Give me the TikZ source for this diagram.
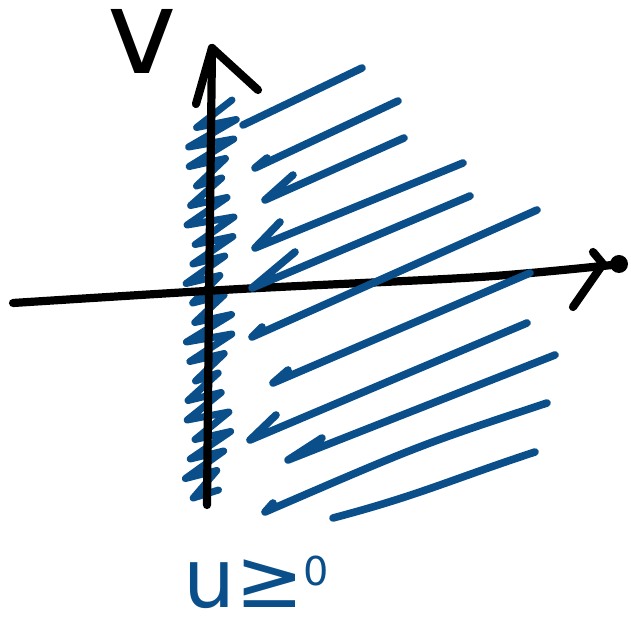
\documentclass[tikz,border=0pt]{standalone}
\usepackage{fontspec}
\setmainfont{DejaVu Sans}
\definecolor{penblue}{HTML}{0B4F8A}
\begin{document}
\begin{tikzpicture}[x=0.03cm,y=-0.03cm,
  axisline/.style={black,line width=7pt,line cap=round,line join=round},
  hatchline/.style={penblue,line width=6.5pt,line cap=round,line join=round},
  scribble/.style={penblue,line width=6pt,line cap=round,line join=round}]
\useasboundingbox (0,0) rectangle (631,627);
% blue scribble along the vertical axis
\draw[scribble] (232,100) \foreach \k in {1,...,20} {
   -- ({192+5*sin(\k*110)-0.1*\k}, {100+19.5*\k+8})
   -- ({230+7*sin(\k*70)-0.35*\k}, {100+19.5*\k}) };
% axes
\draw[axisline] (207,505) -- (209,300) -- (212,48);
\draw[axisline] (196,104) -- (212,48) -- (258,90);
\draw[axisline] plot[smooth] coordinates {(13,303) (240,289) (480,277) (612,265)};
\fill (619,264) circle (9);
\draw[axisline] (593,252) -- (603,264) -- (573,307);
% hatching strokes
\draw[hatchline] (362,68) -- (243,125);
\draw[hatchline] (267,158) -- (255,168) -- (398,101);
\draw[hatchline] (293,175) -- (265,200) -- (404,138);
\draw[hatchline] (280,222) -- (255,248) -- (463,163);
\draw[hatchline] (295,252) -- (252,288) -- (470,196);
\draw[hatchline] (262,327) -- (252,337) -- (537,210);
\draw[hatchline] (288,370) -- (273,383) -- (530,273);
\draw[hatchline] (276,415) -- (250,440) .. controls (380,385) .. (527,323);
\draw[hatchline] (322,438) -- (288,460) -- (555,355);
\draw[hatchline] (273,503) -- (265,512) .. controls (420,445) .. (547,403);
\draw[hatchline] (333,518) .. controls (420,495) and (450,480) .. (535,452);
% labels
\node[font=\fontsize{100}{100}\selectfont, inner sep=0pt, text height=0.56em, text depth=0pt, anchor=base] (vlabel) at (142,74) {v};
\node[penblue, inner sep=0pt, text height=0.6em, text depth=0pt, anchor=base west] (ulabel) at (183,608)
  {\fontsize{70}{70}\selectfont u≥\raisebox{0.28em}{\fontsize{34}{34}\selectfont 0}};
\end{tikzpicture}
\end{document}
